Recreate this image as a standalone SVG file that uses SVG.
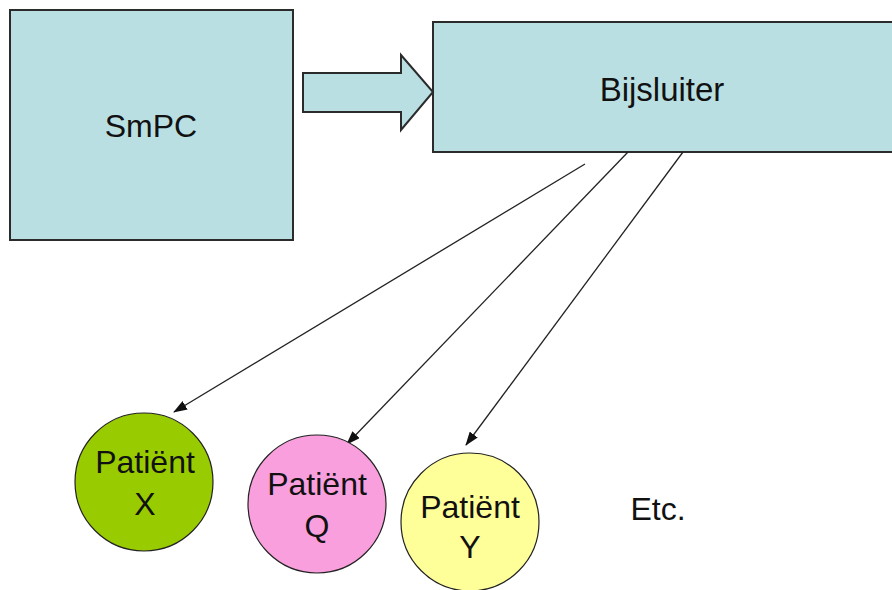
<svg xmlns="http://www.w3.org/2000/svg" width="892" height="590" viewBox="0 0 892 590">
<defs>
<style>
.box{fill:#b9dfe2;stroke:#2b2b2b;stroke-width:2}
.pat{stroke:#222;stroke-width:1.2}
.lbl{font-family:"Liberation Sans",Arial,sans-serif;font-size:32px;fill:#111;text-anchor:middle}
.conn{stroke:#222;stroke-width:1.3;fill:none;marker-end:url(#ah)}
</style>
<marker id="ah" markerWidth="14" markerHeight="10" refX="13" refY="5" orient="auto" markerUnits="userSpaceOnUse">
<path d="M0,0 L14,5 L0,10 Z" fill="#111"/>
</marker>
</defs>
<rect width="892" height="590" fill="#fff"/>
<g id="smpc">
<rect class="box" x="10" y="10" width="283" height="230"/>
<text class="lbl" x="151" y="137">SmPC</text>
</g>
<g id="bijsluiter">
<rect class="box" x="433" y="22" width="470" height="130"/>
<text class="lbl" x="662" y="101" style="font-size:33px">Bijsluiter</text>
</g>
<g id="block-arrow">
<path class="box" d="M303,73 L401,73 L401,55 L433,92 L401,130 L401,112 L303,112 Z"/>
</g>
<g id="connectors">
<line class="conn" x1="585" y1="164" x2="174" y2="412"/>
<line class="conn" x1="628" y1="152" x2="347" y2="444"/>
<line class="conn" x1="683" y1="152" x2="466" y2="445"/>
</g>
<g id="patient-x">
<circle class="pat" cx="144" cy="482" r="69" fill="#99cc00"/>
<text class="lbl" x="145" y="473">Patiënt</text>
<text class="lbl" x="145" y="515">X</text>
</g>
<g id="patient-q">
<circle class="pat" cx="317" cy="504" r="69" fill="#fa9fdd"/>
<text class="lbl" x="317" y="495">Patiënt</text>
<text class="lbl" x="317" y="537">Q</text>
</g>
<g id="patient-y">
<circle class="pat" cx="470" cy="522" r="69" fill="#ffff99"/>
<text class="lbl" x="470" y="518">Patiënt</text>
<text class="lbl" x="470" y="558">Y</text>
</g>
<g id="etc">
<text class="lbl" x="658" y="520">Etc.</text>
</g>
</svg>
